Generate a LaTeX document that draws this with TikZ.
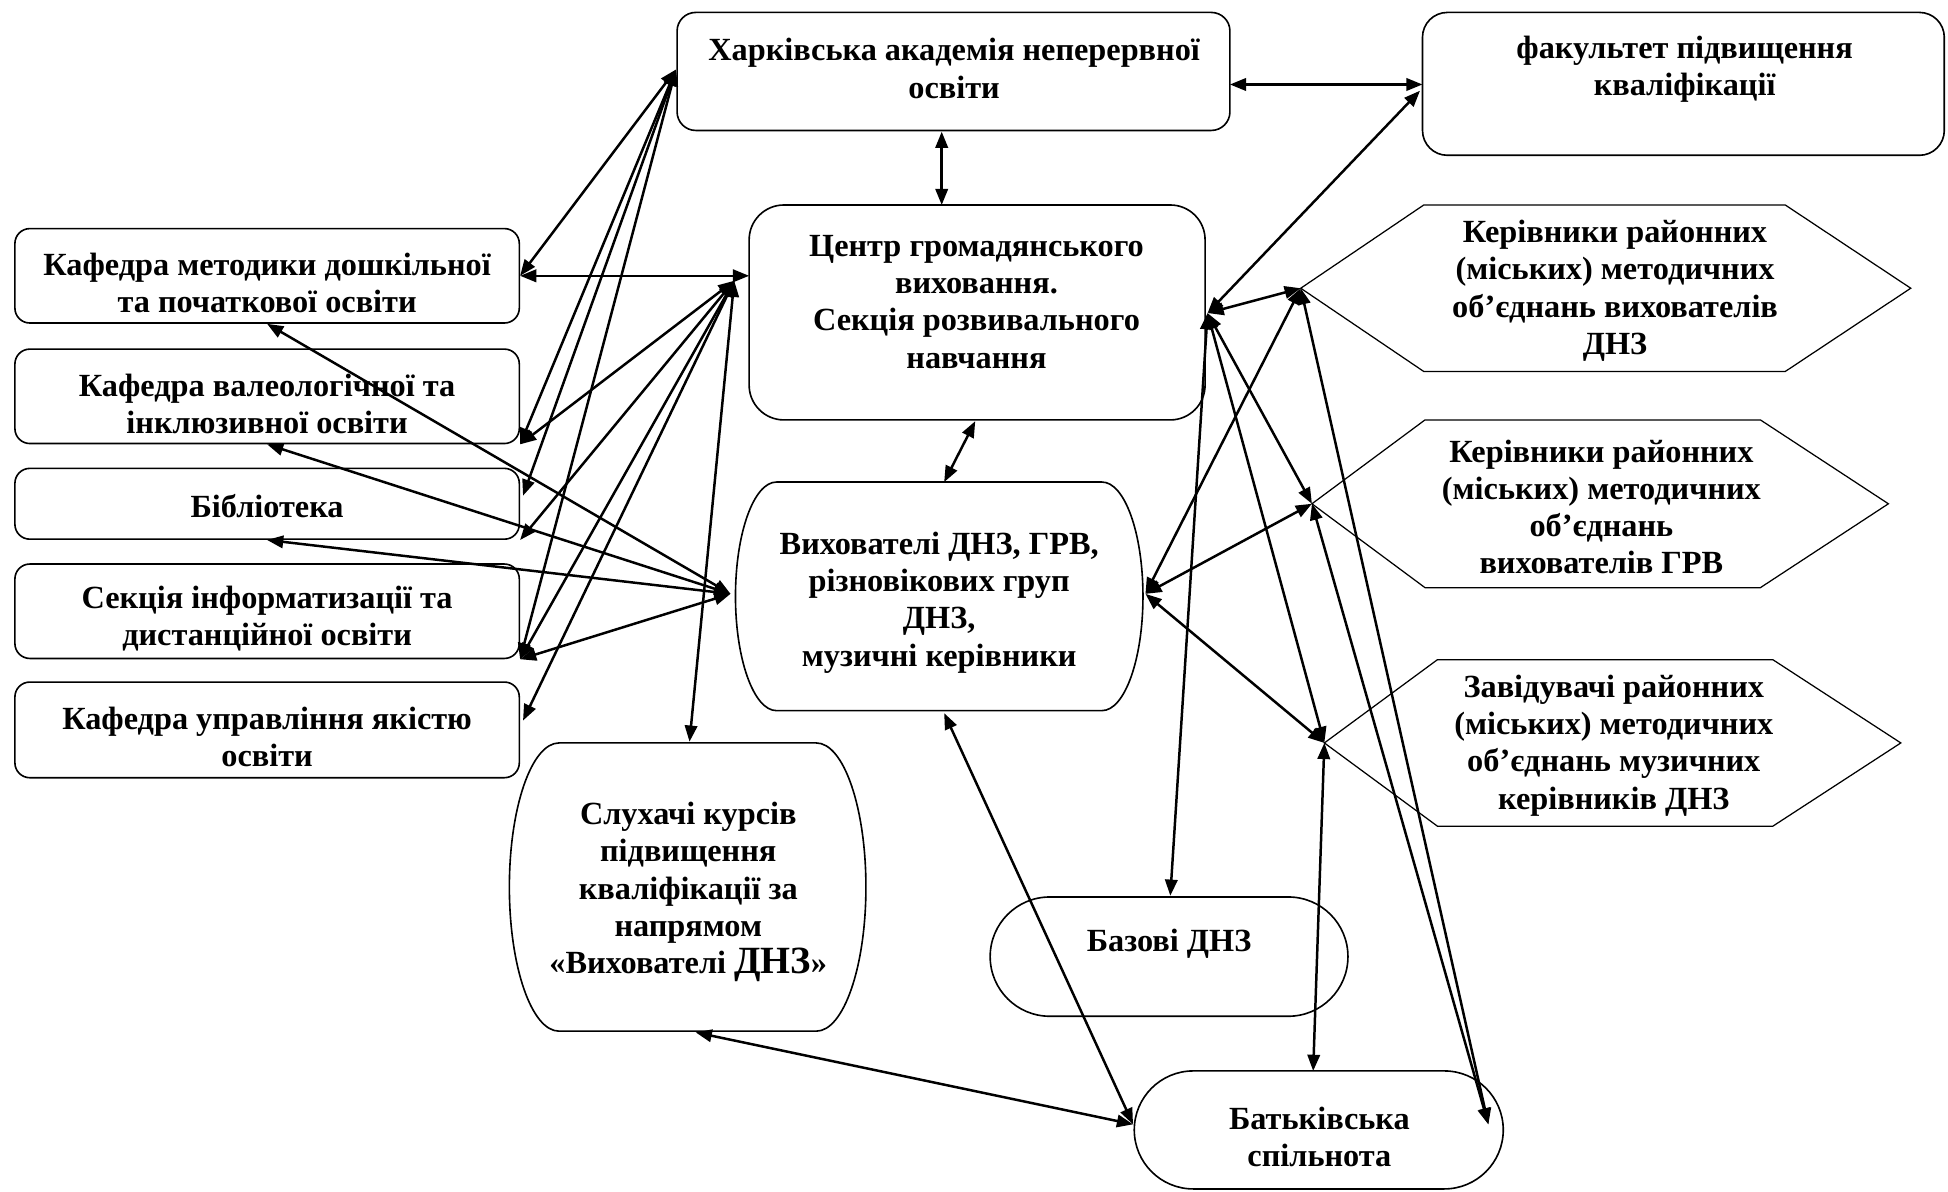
\documentclass[tikz,border=0pt]{standalone}
\usepackage{fontspec}
\setmainfont{Liberation Serif}
\usetikzlibrary{arrows.meta}

\begin{document}
\begin{tikzpicture}
[x=0.5pt,y=-0.5pt,
  boxdecorate/.style={draw,line width=0.65pt,inner sep=0pt},
  rounddecorate/.style={draw,line width=0.65pt},
  hexdecorate/.style={draw,line width=0.5pt},
  textdecorate/.style={font=\fontsize{13}{15}\selectfont\bfseries,align=center,inner sep=0pt},
  linedecorate/.style={{Triangle[length=6.5pt,width=5pt]}-{Triangle[length=6.5pt,width=5pt]},line width=1pt}]
\useasboundingbox (0,0) rectangle (1568,959);
%% rectangular boxes
\foreach \nodename/\x/\y/\w/\h/\r in {akad/767.5/57.5/222.5/47.5/7.5,
  fak/1355/67.5/210/57.5/10, centr/786.5/251.5/183.5/86.5/14,
  kafmet/215/222/203/38/6, kafval/215/319/203/38/6, bibl/215/405.5/203/28.5/6,
  sekinf/215/492/203/38/6, kafupr/215/587.5/203/38.5/6} {
  \node (\nodename) at (\x,\y) [boxdecorate,rounded corners=\r pt,minimum width=\w pt,minimum height=\h pt] {};
}
%% round boxes
\foreach \xa/\ya/\xb/\yb/\rx in {592/388/920/572/33, 410/598/697/830/40,
  797/722/1085/818/48, 913/862/1210/957/47.5} {
  \draw[rounddecorate] (\xa+\rx,\ya) -- (\xb-\rx,\ya)
    arc[start angle=90,end angle=-90,x radius=\rx*0.5pt,y radius=(\yb-\ya)*0.25pt]
    -- (\xa+\rx,\yb)
    arc[start angle=270,end angle=90,x radius=\rx*0.5pt,y radius=(\yb-\ya)*0.25pt] -- cycle;
}
%% hexagons
\foreach \tipl/\cl/\cr/\tipr/\ya/\yb in {1047/1146/1437/1538/165/299,
  1056/1147/1417/1520/338/473, 1066/1157/1427/1530/531/665} {
  \draw[hexdecorate] (\tipl,{(\ya+\yb)/2}) -- (\cl,\ya) -- (\cr,\ya) -- (\tipr,{(\ya+\yb)/2})
    -- (\cr,\yb) -- (\cl,\yb) -- cycle;
}
%% texts
\foreach \nodename/\x/\y/\txt in {
  akadtxt/768/55/{Харківська академія неперервної\\освіти},
  faktxt/1356/56/{факультет підвищення\\кваліфікації},
  centrtxt/786/243/{Центр громадянського\\виховання.\\Секція розвивального\\навчання},
  kafmettxt/215/228/{Кафедра методики дошкільної\\та початкової освіти},
  kafvaltxt/215/325/{Кафедра валеологічної та\\інклюзивної освіти},
  bibltxt/215/407/{Бібліотека},
  sekinftxt/215/498/{Секція інформатизації та\\дистанційної освіти},
  kafuprtxt/215/593/{Кафедра управління якістю\\освіти},
  vykhtxt/756/485/{Вихователі ДНЗ, ГРВ,\\різновікових груп\\ДНЗ,\\музичні керівники},
  sluchtxt/554/718/{Слухачі курсів\\підвищення\\кваліфікації за\\напрямом\\«Вихователі {\fontsize{15.5}{15}\selectfont ДНЗ}»},
  baztxt/941/760/{Базові ДНЗ},
  batktxt/1062/915/{Батьківська\\спільнота},
  kerdnztxt/1300/234/{Керівники районних\\(міських) методичних\\об’єднань вихователів\\ДНЗ},
  kergrvtxt/1289/408/{Керівники районних\\(міських) методичних\\об’єднань\\вихователів ГРВ},
  zavmustxt/1299/600/{Завідувачі районних\\(міських) методичних\\об’єднань музичних\\керівників ДНЗ}} {
  \node (\nodename) at (\x,\y) [textdecorate] {\txt};
}
%% connector ends
\foreach \pointname/\x/\y in {akadL/544/56, akadS/758/106, akadE/990/68,
  fakW/1145/68, fakSW/1143/73, centrN/758/165, centrW/603/222, centrL/591/226,
  centrR/972/252, centrS/785/339, vykhN/760/388, vykhL/588/478, vykhR/922/478,
  vykhS/760/574, biblE/421/399, kafuprE/421/580, sluchN/555/597, sluchSE/560/831,
  bazN/942/721, batkL/912/905, batkT/1057/862, batkR/1198/905,
  kerdnz/1047/232, kergrv/1056/405.5, zavmus/1066/598} {
  \coordinate (\pointname) at (\x,\y);
}
%% connectors
\path
\foreach \startnode/\endnode in {akadE/fakW, akadS/centrN, fakSW/centrR,
  centrR/kerdnz, centrR/kergrv, centrR/zavmus, centrR/bazN,
  kerdnz/vykhR, kerdnz/batkR, kergrv/vykhR, kergrv/batkR, zavmus/vykhR,
  zavmus/batkT, vykhS/batkL, sluchSE/batkL, centrS/vykhN, centrL/sluchN,
  kafmet.east/centrW, akadL/kafmet.east, akadL/kafval.south east, akadL/biblE,
  akadL/sekinf.south east, centrL/kafval.south east, centrL/bibl.south east,
  centrL/sekinf.south east, centrL/kafuprE, vykhL/kafmet.south,
  vykhL/kafval.south, vykhL/bibl.south, vykhL/sekinf.south east} {
  (\startnode) edge[linedecorate] (\endnode)
};
\end{tikzpicture}
\end{document}
